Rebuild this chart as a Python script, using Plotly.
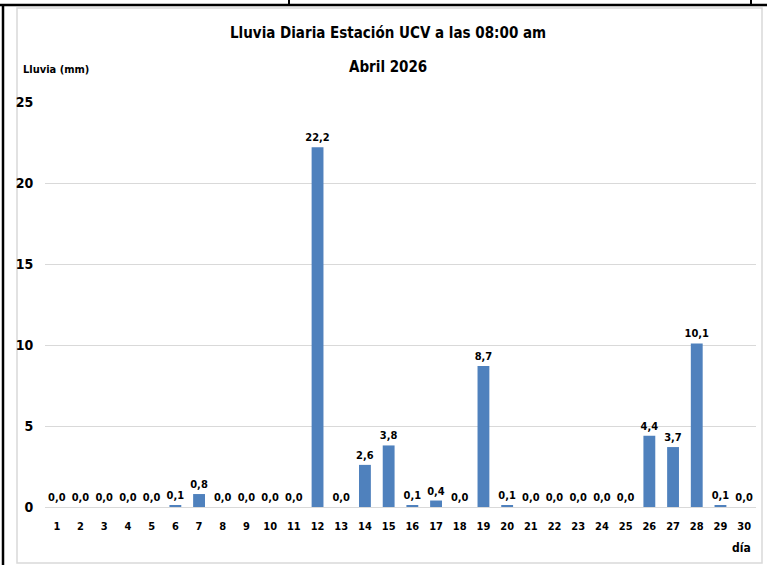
import plotly.graph_objects as go

days = list(range(1, 31))
rain = [0.0, 0.0, 0.0, 0.0, 0.0, 0.1, 0.8, 0.0, 0.0, 0.0,
        0.0, 22.2, 0.0, 2.6, 3.8, 0.1, 0.4, 0.0, 8.7, 0.1,
        0.0, 0.0, 0.0, 0.0, 0.0, 4.4, 3.7, 10.1, 0.1, 0.0]
labels = [f"{v:.1f}".replace(".", ",") for v in rain]
y_ticks = [0, 5, 10, 15, 20, 25]

FONT = "DejaVu Sans Condensed, Liberation Sans Narrow, sans-serif"
W, H = 767, 565
L, R, T, B = 45, 11, 102, 58
pw, ph = W - L - R, H - T - B

def px(x):
    return (x - L) / pw

def py(y):
    return 1 - (y - T) / ph

fig = go.Figure()
fig.add_trace(go.Bar(
    x=days, y=rain, width=0.5,
    marker=dict(color="#4F81BD", line=dict(width=0)),
    text=labels, textposition="outside", cliponaxis=False, constraintext="none",
    textfont=dict(family=FONT, size=11, color="#000000"),
    texttemplate="<b>%{text}</b>",
))

shapes = [
    dict(type="rect", xref="paper", yref="paper", x0=px(17), x1=px(762), y0=py(563), y1=py(8),
         line=dict(color="#d9d9d9", width=1.5), layer="below"),
    dict(type="line", xref="paper", yref="paper", x0=px(0), x1=px(767), y0=py(5), y1=py(5),
         line=dict(color="#000000", width=2.5)),
    dict(type="line", xref="paper", yref="paper", x0=px(3), x1=px(3), y0=py(4), y1=py(565),
         line=dict(color="#000000", width=2.5)),
    dict(type="line", xref="paper", yref="paper", x0=px(289), x1=px(289), y0=py(0), y1=py(5),
         line=dict(color="#000000", width=2)),
    dict(type="line", xref="paper", yref="paper", x0=px(751), x1=px(751), y0=py(0), y1=py(5),
         line=dict(color="#000000", width=2)),
]

def ann(text, x, y, size, xanchor="center"):
    return dict(text=text, xref="paper", yref="paper", x=px(x), y=py(y),
                xanchor=xanchor, yanchor="middle", showarrow=False,
                font=dict(family=FONT, size=size, color="#000"))

annotations = [
    ann("<b>Lluvia Diaria Estación UCV a las 08:00 am</b>", 388, 33, 15),
    ann("<b>Abril 2026</b>", 388, 67, 15),
    ann("<b>Lluvia (mm)</b>", 21, 69, 11, xanchor="left"),
    ann("<b>día</b>", 741, 548, 12),
]

fig.update_layout(
    width=W, height=H, margin=dict(l=L, r=R, t=T, b=B),
    paper_bgcolor="#ffffff", plot_bgcolor="#ffffff",
    showlegend=False, shapes=shapes, annotations=annotations,
    font=dict(family=FONT, color="#000"),
    xaxis=dict(range=[0.5, 30.5], tickmode="array", tickvals=days,
               ticktext=[f"<b>{d}</b>" for d in days],
               tickfont=dict(family=FONT, size=11, color="#000"),
               showgrid=False, showline=False, zeroline=False,
               ticks="outside", ticklen=9, tickcolor="rgba(0,0,0,0)"),
    yaxis=dict(range=[0, 25], tickmode="array", tickvals=y_ticks,
               ticktext=[f"<b>{v}</b>" for v in y_ticks],
               tickfont=dict(family=FONT, size=14, color="#000"),
               showgrid=True, gridcolor="#d9d9d9", gridwidth=1,
               zeroline=True, zerolinecolor="#d9d9d9", zerolinewidth=1,
               showline=False, ticks="outside", ticklen=8, tickcolor="rgba(0,0,0,0)"),
)

fig.write_html("out.html", config={"displayModeBar": False},
               post_script="document.body.style.margin='0';")
